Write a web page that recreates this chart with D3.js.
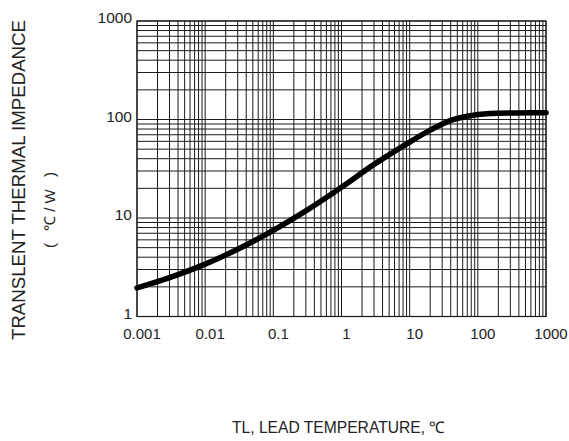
<!doctype html>
<html lang="en">
<head>
  <meta charset="utf-8">
  <title>Transient thermal impedance</title>
  <script src="https://d3js.org/d3.v7.min.js"></script>
  <style>
    body { margin: 0; background: #fff; }
    text { font-family: Arial, "Liberation Sans", sans-serif; fill: #222; }
  </style>
</head>
<body>
<div id="chart"></div>
<script>
  // data
  var tempTime = [0.001, 0.003, 0.01, 0.03, 0.1, 0.3, 1, 3, 10, 20, 40, 70, 150, 400, 1000];
  var impedance = [1.95, 2.48, 3.4, 4.82, 7.5, 11.8, 20.5, 35, 59, 78, 98, 108, 115, 116.5, 117];
  var xTicks = [0.001, 0.01, 0.1, 1, 10, 100, 1000];
  var xTickLabels = ["0.001", "0.01", "0.1", "1", "10", "100", "1000"];
  var yTicks = [1, 10, 100, 1000];
  var yTickLabels = ["1", "10", "100", "1000"];

  var margin = {top: 21, right: 23, bottom: 124.5, left: 137},
      width = 569 - margin.left - margin.right,
      height = 441 - margin.top - margin.bottom;

  var svg = d3.select("#chart")
      .append("svg")
      .attr("width", 569)
      .attr("height", 441);

  var g = svg.append("g")
      .attr("transform", "translate(" + margin.left + "," + margin.top + ")");

  var x = d3.scaleLog().domain([0.001, 1000]).range([0, width]);
  var y = d3.scaleLog().domain([1, 1000]).range([height, 0]);

  // log grid: every 1..9 in each decade
  var xGrid = [], yGrid = [];
  xTicks.forEach(function (d) { for (var k = 1; k < 10; k++) { if (d * k <= 1000) xGrid.push(d * k); } });
  yTicks.forEach(function (d) { for (var k = 1; k < 10; k++) { if (d * k <= 1000) yGrid.push(d * k); } });

  g.append("g")
      .selectAll("line")
      .data(xGrid)
      .enter().append("line")
      .attr("x1", function (d) { return x(d); })
      .attr("x2", function (d) { return x(d); })
      .attr("y1", 0)
      .attr("y2", height)
      .attr("stroke", "#1a1a1a")
      .attr("stroke-width", 1);

  g.append("g")
      .selectAll("line")
      .data(yGrid)
      .enter().append("line")
      .attr("y1", function (d) { return y(d); })
      .attr("y2", function (d) { return y(d); })
      .attr("x1", 0)
      .attr("x2", width)
      .attr("stroke", "#1a1a1a")
      .attr("stroke-width", 1);

  g.append("rect")
      .attr("width", width)
      .attr("height", height)
      .attr("fill", "none")
      .attr("stroke", "#1a1a1a")
      .attr("stroke-width", 1.2);

  // tick labels
  g.append("g")
      .selectAll("text")
      .data(xTicks)
      .enter().append("text")
      .attr("x", function (d) { return x(d) + 5; })
      .attr("y", height + 22)
      .attr("text-anchor", "middle")
      .attr("font-size", "15px")
      .text(function (d, i) { return xTickLabels[i]; });

  g.append("g")
      .selectAll("text")
      .data(yTicks)
      .enter().append("text")
      .attr("x", -5)
      .attr("y", function (d) { return y(d); })
      .attr("dy", "0.15em")
      .attr("text-anchor", "end")
      .attr("font-size", "15.5px")
      .text(function (d, i) { return yTickLabels[i]; });

  // curve
  var line = d3.line()
      .x(function (d) { return x(d[0]); })
      .y(function (d) { return y(d[1]); })
      .curve(d3.curveCatmullRom.alpha(0.5));

  g.append("path")
      .datum(tempTime.map(function (t, i) { return [t, impedance[i]]; }))
      .attr("d", line)
      .attr("fill", "none")
      .attr("stroke", "#000")
      .attr("stroke-width", 5.5)
      .attr("stroke-linecap", "round");

  // axis titles
  svg.append("text")
      .attr("transform", "translate(25,180) rotate(-90)")
      .attr("text-anchor", "middle")
      .attr("font-size", "18.5px")
      .attr("textLength", 320)
      .attr("lengthAdjust", "spacingAndGlyphs")
      .text("TRANSLENT THERMAL IMPEDANCE");

  svg.append("text")
      .attr("transform", "translate(55,210) rotate(-90)")
      .attr("text-anchor", "middle")
      .attr("font-size", "15px")
      .attr("textLength", 76)
      .attr("lengthAdjust", "spacing")
      .text("( \u2103/W )");

  svg.append("text")
      .attr("x", 232)
      .attr("y", 433)
      .attr("font-size", "16px")
      .attr("textLength", 213)
      .attr("lengthAdjust", "spacingAndGlyphs")
      .text("TL, LEAD TEMPERATURE, \u2103");
</script>
</body>
</html>
